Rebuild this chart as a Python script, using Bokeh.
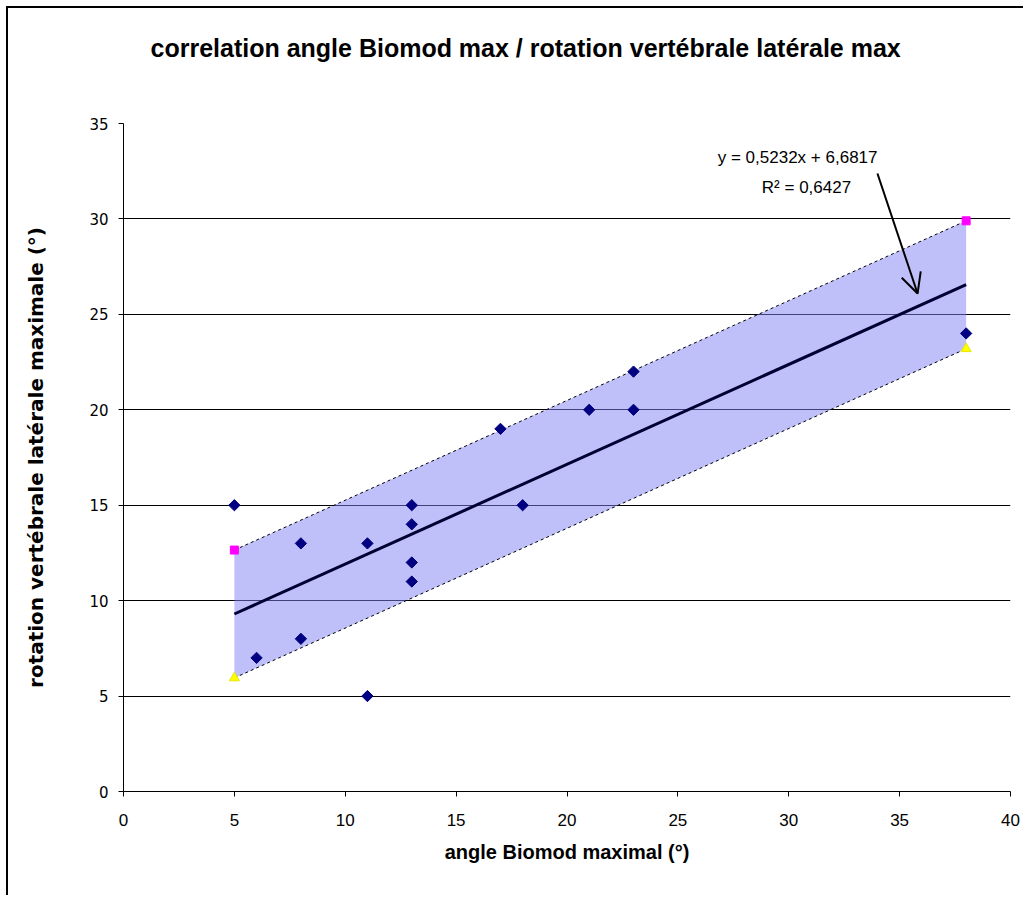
import math
from bokeh.plotting import figure
from bokeh.models import Label, Arrow, OpenHead, Title
from bokeh.embed import file_html
from bokeh.resources import INLINE

# ---- data ----
biomod_x = [5, 6, 8, 8, 11, 11, 13, 13, 13, 13, 17, 18, 21, 23, 23, 38]
rotation_y = [15, 7, 13, 8, 13, 5, 15, 14, 12, 11, 19, 15, 20, 22, 20, 24]

band_x = [5, 38]
band_upper = [12.65, 29.9]
band_lower = [5.95, 23.2]

trend_x = [5, 38]
trend_y = [9.30, 26.56]

x_ticks = [0, 5, 10, 15, 20, 25, 30, 35, 40]
y_ticks = [0, 5, 10, 15, 20, 25, 30, 35]

title_text = "correlation angle Biomod max / rotation vertébrale latérale max"
x_label = "angle Biomod maximal (°)"
y_label = "rotation vertébrale latérale maximale (°)"
eq_text = "y = 0,5232x + 6,6817"
r2_text = "R² = 0,6427"

W, H = 1017, 889
p = figure(width=W, height=H, output_backend="svg", toolbar_location=None,
           x_range=(0, 40), y_range=(0, 35),
           min_border_left=115, min_border_right=15, min_border_top=115,
           min_border_bottom=106)
p.styles = {"margin-left": "6px", "margin-top": "6px",
            "border-left": "2px solid black", "border-top": "2px solid black"}
p.outline_line_color = None
p.background_fill_color = "white"
p.border_fill_color = "white"

# spacer between the frame and the title, then the title itself
p.add_layout(Title(text=" ", standoff=57, text_font_size="1px"), "above")
p.add_layout(Title(text=title_text, align="left", offset=27, vertical_align="bottom",
                   standoff=4, text_font="Liberation Sans", text_font_size="25px",
                   text_font_style="bold", text_color="black"), "above")

# grid
p.xgrid.visible = False
p.ygrid.ticker = y_ticks
p.ygrid.grid_line_color = "black"
p.ygrid.grid_line_width = 1

# axes
p.xaxis.ticker = x_ticks
p.yaxis.ticker = y_ticks
for ax in (p.xaxis[0], p.yaxis[0]):
    ax.axis_line_color = "black"
    ax.axis_line_width = 1
    ax.major_tick_line_color = "black"
    ax.major_tick_out = 5
    ax.major_tick_in = 0
    ax.minor_tick_line_color = None
    ax.major_label_text_color = "black"
    ax.axis_label_text_color = "black"
    ax.axis_label_text_font_style = "bold"

p.xaxis.major_label_text_font = "Liberation Sans"
p.xaxis.major_label_text_font_size = "17px"
p.xaxis.major_label_standoff = 17
p.xaxis.axis_label = x_label
p.xaxis.axis_label_text_font = "Liberation Sans"
p.xaxis.axis_label_text_font_size = "20px"
p.xaxis.axis_label_standoff = 12

p.yaxis.major_label_text_font = "DejaVu Sans"
p.yaxis.major_label_text_font_size = "15px"
p.yaxis.major_label_standoff = 10
p.yaxis.axis_label = y_label
p.yaxis.axis_label_text_font = "DejaVu Sans"
p.yaxis.axis_label_text_font_size = "20px"
p.yaxis.axis_label_standoff = 38

# confidence band
p.varea(x=band_x, y1=band_lower, y2=band_upper, fill_color="#8080f5", fill_alpha=0.5)
p.line(band_x, band_upper, line_color="black", line_width=1, line_dash="3 3")
p.line(band_x, band_lower, line_color="black", line_width=1, line_dash="3 3")

# trend line
p.line(trend_x, trend_y, line_color="#000033", line_width=3)

# points
p.scatter(biomod_x, rotation_y, marker="square", angle=math.pi / 4, size=8,
          fill_color="#000080", line_color="#000080")
p.scatter([band_x[0], band_x[1]], [band_upper[0], band_upper[1]], marker="square", size=8,
          fill_color="#ff00ff", line_color="#ff00ff")
p.scatter([band_x[0], band_x[1]], [band_lower[0], band_lower[1]], marker="triangle", size=10,
          fill_color="#ffff00", line_color="#e6e600")

# regression annotation
p.add_layout(Label(x=30.4, y=33.2, text=eq_text, text_align="center", text_baseline="middle",
                   text_font="Liberation Sans", text_font_size="17px", text_color="black"))
p.add_layout(Label(x=30.8, y=31.65, text=r2_text, text_align="center", text_baseline="middle",
                   text_font="Liberation Sans", text_font_size="17px", text_color="black"))
p.add_layout(Arrow(x_start=34.0, y_start=32.38, x_end=35.81, y_end=26.09,
                   line_color="black", line_width=2,
                   end=OpenHead(size=20, line_color="black", line_width=2)))

open("out.html", "w").write(file_html(p, INLINE))
